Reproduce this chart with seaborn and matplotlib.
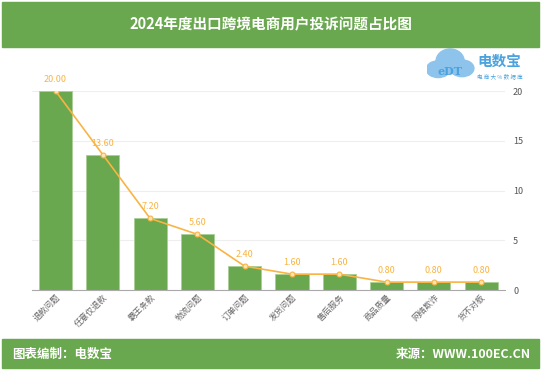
import numpy as np
import pandas as pd
import seaborn as sns
import matplotlib.pyplot as plt
from matplotlib.patches import Rectangle, Ellipse

# data
categories = ['退款问题', '任意仅退款', '霸王条款', '物流问题', '订单问题',
              '发货问题', '售后服务', '商品质量', '网络欺诈', '货不对板']
shares = [20.00, 13.60, 7.20, 5.60, 2.40, 1.60, 1.60, 0.80, 0.80, 0.80]
y_ticks = [0, 5, 10, 15, 20]

title = '2024年度出口跨境电商用户投诉问题占比图'
footer_left = '图表编制：电数宝'
footer_right = '来源：WWW.100EC.CN'

green = '#6aa84f'
orange = '#f9b443'

sns.set_theme(style='white')
plt.rcParams['font.family'] = ['Noto Sans CJK SC', 'DejaVu Sans']

df = pd.DataFrame({'cat': categories, 'val': shares})

fig = plt.figure(figsize=(5.41, 3.70), dpi=100)

# title band
fig.patches.append(Rectangle((0.004, 0.873), 0.992, 0.122, transform=fig.transFigure,
                             color=green, zorder=0))
fig.text(0.5, 0.933, title, ha='center', va='center', color='white',
         fontsize=10.5, fontweight='bold')

# footer band
fig.patches.append(Rectangle((0.004, 0.006), 0.992, 0.078, transform=fig.transFigure,
                             color=green, zorder=0))
fig.text(0.022, 0.043, footer_left, ha='left', va='center', color='white',
         fontsize=9, fontweight='bold')
fig.text(0.982, 0.043, footer_right, ha='right', va='center', color='white',
         fontsize=9, fontweight='bold')

# logo (approximation)
lax = fig.add_axes([0.79, 0.775, 0.2, 0.095])
lax.set_xlim(0, 10)
lax.set_ylim(0, 4)
lax.axis('off')
for cx, cy, w, h in [(1.0, 1.6, 2.2, 1.9), (2.1, 2.5, 2.6, 2.8), (3.2, 1.7, 2.2, 1.9)]:
    lax.add_patch(Ellipse((cx, cy), w, h, color='#8ec3ec', zorder=1))
lax.text(2.1, 1.3, 'eDT', ha='center', va='center', color='#4aa3df', fontsize=8,
         fontweight='bold', family='DejaVu Serif', zorder=2)
lax.text(4.6, 2.6, '电数宝', ha='left', va='center', color='#4aa3df', fontsize=10.5,
         fontweight='bold')
lax.text(4.6, 0.8, '电 商 大 % 数 据 库', ha='left', va='center', color='#4aa3df',
         fontsize=4)

# main chart
ax = fig.add_axes([0.059, 0.216, 0.874, 0.538])
sns.barplot(data=df, x='cat', y='val', color=green, saturation=1, width=0.7,
            edgecolor='#a9cf98', linewidth=0.6, ax=ax, zorder=2)
sns.lineplot(x=np.arange(len(shares)), y=shares, color=orange, linewidth=1.2,
             marker='o', markersize=3.5, markerfacecolor='#fde3b3',
             markeredgecolor=orange, markeredgewidth=0.8, ax=ax, zorder=3)
for i, v in enumerate(shares):
    ax.annotate(f'{v:.2f}', (i, v), xytext=(0, 5), textcoords='offset points',
                ha='center', va='bottom', color=orange, fontsize=6.5)

ax.set_xlim(-0.5, len(categories) - 0.5)
ax.set_ylim(0, 20)
ax.set_yticks(y_ticks)
ax.yaxis.tick_right()
ax.tick_params(axis='y', length=0, labelsize=6.5, labelcolor='#555555', pad=6)
ax.tick_params(axis='x', length=0, labelsize=6, labelcolor='#666666', pad=2)
ax.set_xticks(range(len(categories)))
ax.set_xticklabels(categories, rotation=45, ha='right', rotation_mode='anchor')
ax.set_xlabel('')
ax.set_ylabel('')
ax.grid(axis='y', color='#eeeeee', linewidth=0.8, zorder=0)
ax.set_axisbelow(True)
for s in ['top', 'right', 'left']:
    ax.spines[s].set_visible(False)
ax.spines['bottom'].set_color('#aaaaaa')
ax.spines['bottom'].set_linewidth(0.8)

fig.savefig('out.png', dpi=100)
